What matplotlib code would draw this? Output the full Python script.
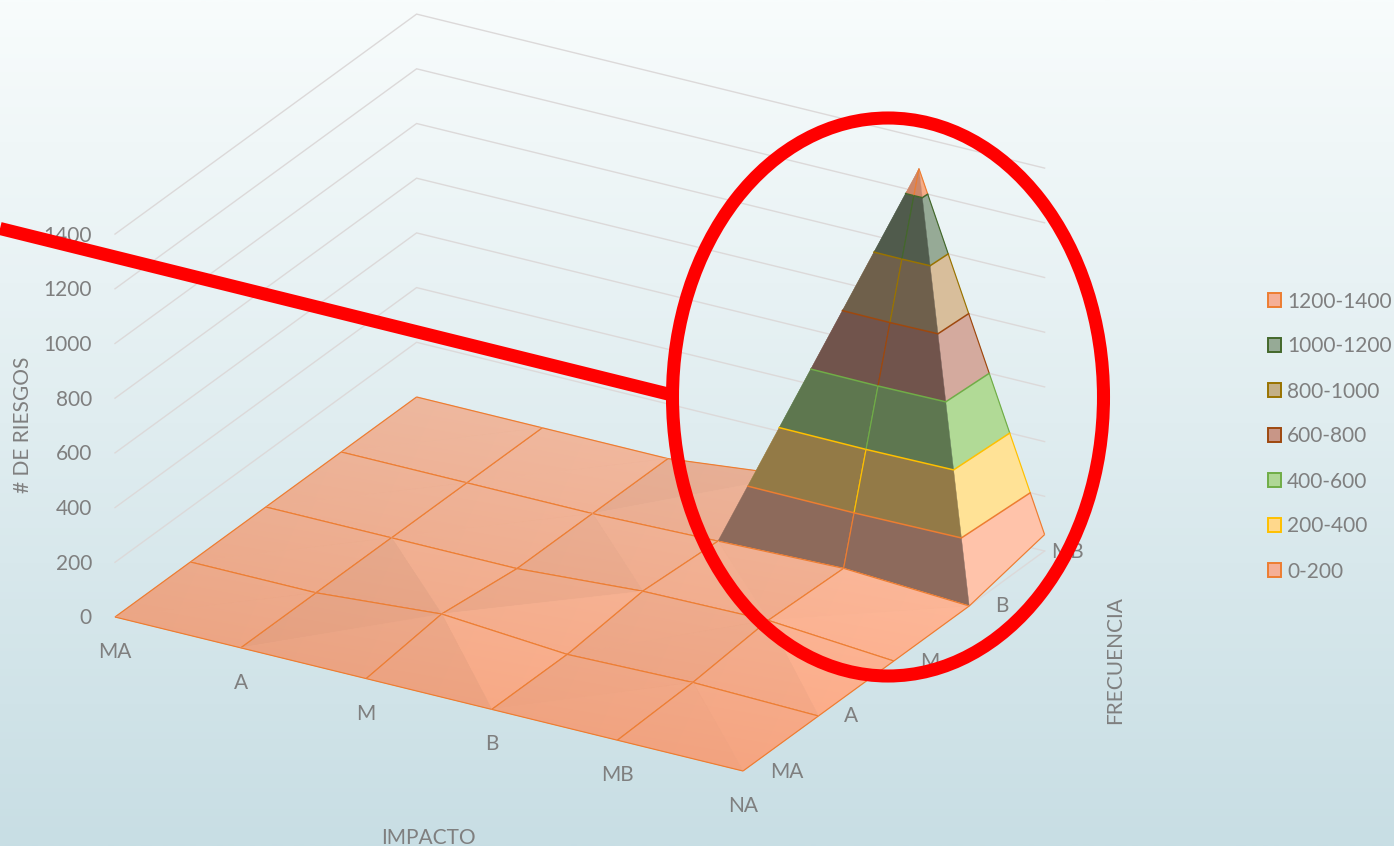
import numpy as np
import matplotlib
matplotlib.use("Agg")
import matplotlib.pyplot as plt
from matplotlib.patches import Polygon, Rectangle, Ellipse

# ---- chart data -------------------------------------------------------------
impact_labels = ["MA", "A", "M", "B", "MB", "NA"]
freq_labels = ["MA", "A", "M", "B", "MB"]

# number of risks, one row per frequency level, one column per impact level
risks_freq_ma = [0, 0, 0, 0, 0, 0]
risks_freq_a = [0, 0, 35, 0, 10, 0]
risks_freq_m = [0, 0, 0, 30, 36, 0]
risks_freq_b = [0, 0, 0, 12, 25, 0]
risks_freq_mb = [0, 0, 0, 50, 1285, 60]

band_edges = [0, 200, 400, 600, 800, 1000, 1200, 1400]
band_labels = ["0-200", "200-400", "400-600", "600-800", "800-1000", "1000-1200", "1200-1400"]
z_ticks = [0, 200, 400, 600, 800, 1000, 1200, 1400]

# ---- styling ----------------------------------------------------------------
band_lines = ["#ED7D31", "#FFC000", "#70AD47", "#9E480E", "#997300", "#43682B", "#ED7D31"]
band_swatches = ["#F5AF96", "#FFD88C", "#AFD796", "#C89687", "#C3AF87", "#96AA96", "#F5AF96"]
band_front = [(140, 105, 91), (146, 121, 70), (93, 118, 79), (112, 83, 75),
              (110, 95, 75), (80, 91, 76), (205, 135, 105)]
band_side = [(255, 195, 170), (255, 226, 150), (177, 218, 150), (212, 170, 158),
             (216, 190, 155), (150, 170, 150), (245, 172, 135)]
TEXT = "#7F7F7F"
GRID = "#DCD9D9"
W, H = 1394, 846

plt.rcParams["font.family"] = ["Lato", "DejaVu Sans"]
fig = plt.figure(figsize=(W / 100, H / 100), dpi=100)
ax = fig.add_axes([0, 0, 1, 1])
ax.set_xlim(0, W)
ax.set_ylim(H, 0)
ax.axis("off")

Z = np.array([risks_freq_ma, risks_freq_a, risks_freq_m, risks_freq_b, risks_freq_mb], dtype=float)
n_freq, n_imp = Z.shape


def project(i, j, z):
    """Oblique projection from (impact, frequency, risks) to canvas position."""
    return (115 + 125.6 * i + 75.4 * j, 617 + 30.8 * i - 55.0 * j - 0.2735 * z)


# backdrop
top = np.array([248, 252, 252]) / 255
bottom = np.array([200, 222, 228]) / 255
ramp = np.linspace(0, 1, 256)[:, None, None]
ax.imshow(top + (bottom - top) * ramp, extent=(0, W, H, 0), aspect="auto", zorder=0,
          interpolation="bilinear")
ax.set_xlim(0, W)
ax.set_ylim(H, 0)

# wall gridlines
for tick in z_ticks:
    p = [project(0, 0, tick), project(0, n_freq - 1, tick), project(n_imp - 1, n_freq - 1, tick)]
    ax.plot(*zip(*p), color=GRID, lw=1.0, zorder=1, solid_joinstyle="miter")
p = [project(n_imp - 1, 0, 0), project(n_imp - 1, n_freq - 1, 0)]
ax.plot(*zip(*p), color=GRID, lw=1.0, zorder=1)


def clip_poly(pts, zmin, zmax):
    """Clip a polygon of (i, j, z) points to the slab zmin <= z <= zmax."""
    def cut(points, level, keep_above):
        out = []
        for a, b in zip(points, points[1:] + points[:1]):
            ina = a[2] >= level if keep_above else a[2] <= level
            inb = b[2] >= level if keep_above else b[2] <= level
            if ina:
                out.append(a)
            if ina != inb:
                t = (level - a[2]) / (b[2] - a[2])
                out.append(tuple(a[k] + t * (b[k] - a[k]) for k in range(3)))
        return out
    pts = cut(list(pts), zmin, True)
    return cut(pts, zmax, False) if pts else []


def clip_segment(a, b, zmin, zmax):
    za, zb = a[2], b[2]
    if za == zb:
        return (a, b) if zmin <= za < zmax else None
    t0 = (zmin - za) / (zb - za)
    t1 = (zmax - za) / (zb - za)
    lo, hi = max(min(t0, t1), 0), min(max(t0, t1), 1)
    if hi <= lo:
        return None
    at = lambda t: tuple(a[k] + t * (b[k] - a[k]) for k in range(3))
    return at(lo), at(hi)


def normal_of(tri):
    a, b, c = [np.array([p[0], p[1], p[2] * 0.0021]) for p in tri]
    n = np.cross(b - a, c - a)
    if n[2] < 0:
        n = -n
    return n / np.linalg.norm(n)


def floor_color(x, y, shade):
    f = (y - 400) / 370
    base = np.array([239, 185, 160]) + (np.array([241, 161, 125]) - np.array([239, 185, 160])) * f
    base = base + np.array([6, 6, 7]) * (x - 520) / 500
    return np.clip(base * shade / 255, 0, 1)


# split every grid cell along the diagonal that touches its highest corner
triangles = []
for j in range(n_freq - 1):
    for i in range(n_imp - 1):
        c00 = (i, j, Z[j, i])
        c10 = (i + 1, j, Z[j, i + 1])
        c01 = (i, j + 1, Z[j + 1, i])
        c11 = (i + 1, j + 1, Z[j + 1, i + 1])
        if max(c00[2], c11[2]) >= max(c10[2], c01[2]):
            triangles.append((c00, c10, c11, [(c00, c10), (c10, c11)]))
            triangles.append((c00, c11, c01, [(c11, c01), (c01, c00)]))
        else:
            triangles.append((c00, c10, c01, [(c00, c10), (c01, c00)]))
            triangles.append((c10, c11, c01, [(c10, c11), (c11, c01)]))

# painter's order: far frequency first
triangles.sort(key=lambda t: -(t[0][1] + t[1][1] + t[2][1]))

z = 2.0
for a, b, c, edges in triangles:
    n = normal_of((a, b, c))
    steep = max(a[2], b[2], c[2]) > 300
    t = float(np.clip(0.85 + 0.21 * n[0] + 0.9 * n[1], 0, 1))
    for band in range(len(band_labels)):
        lo, hi = band_edges[band], band_edges[band + 1]
        poly = clip_poly((a, b, c), lo, hi)
        if len(poly) < 3:
            continue
        xy = [project(*p) for p in poly]
        if steep:
            col = (np.array(band_front[band]) + t * (np.array(band_side[band]) - np.array(band_front[band]))) / 255
            ax.add_patch(Polygon(xy, closed=True, fc=col, ec=col, lw=0.3, zorder=z))
        else:
            shade = 1 + 0.42 * n[0] + 0.15 * n[1]
            xs, ys = zip(*xy)
            x0, x1, y0, y1 = min(xs), max(xs), min(ys), max(ys)
            mean = floor_color(np.mean(xs), np.mean(ys), shade)
            patch = Polygon(xy, closed=True, fc=mean, ec=mean, lw=0.4, zorder=z)
            ax.add_patch(patch)
            gx, gy = np.meshgrid(np.linspace(x0, x1, 8), np.linspace(y0, y1, 8))
            img = floor_color(gx[..., None], gy[..., None], shade)
            im = ax.imshow(img, extent=(x0, x1, y1, y0), aspect="auto", zorder=z + 0.01,
                           interpolation="bilinear")
            im.set_clip_path(Polygon(xy, closed=True, transform=ax.transData))
    z += 0.1
    # grid edges of this facet, coloured by the band they run through
    for p, q in edges:
        for band in range(len(band_labels)):
            seg = clip_segment(p, q, band_edges[band], band_edges[band + 1])
            if seg:
                ax.plot(*zip(*[project(*s) for s in seg]), color=band_lines[band],
                        lw=0.85, zorder=z, solid_capstyle="butt")
    # contour lines between bands
    for band, level in enumerate(band_edges[1:-1]):
        pts = []
        for p, q in ((a, b), (b, c), (c, a)):
            if (p[2] - level) * (q[2] - level) < 0:
                s = (level - p[2]) / (q[2] - p[2])
                pts.append(project(p[0] + s * (q[0] - p[0]), p[1] + s * (q[1] - p[1]), level))
        if len(pts) == 2:
            ax.plot(*zip(*pts), color=band_lines[band], lw=1.1, zorder=z + 0.01,
                    solid_capstyle="round")
    z += 0.1

# tick labels
FS = 15.0
for tick in z_ticks:
    x, y = project(0, 0, tick)
    ax.text(x - 23, y + 1.5, str(tick), ha="right", va="center", color=TEXT, fontsize=FS, zorder=z)
for i, lab in enumerate(impact_labels):
    x, y = project(i, 0, 0)
    ax.text(x, y + 35, lab, ha="center", va="center", color=TEXT, fontsize=FS, zorder=z)
freq_dx = [44, 33, 36, 33, 23]
for j, lab in enumerate(freq_labels):
    x, y = project(n_imp - 1, j, 0)
    ax.text(x + freq_dx[j], y + 0.5, lab, ha="center", va="center", color=TEXT, fontsize=FS, zorder=z)

# axis titles
ax.text(23, 425, "# DE RIESGOS", rotation=90, ha="center", va="center", color=TEXT, fontsize=FS, zorder=z)
ax.text(428, 838, "IMPACTO", ha="center", va="center", color=TEXT, fontsize=FS, zorder=z)
ax.text(1115, 660, "FRECUENCIA", rotation=90, ha="center", va="center", color=TEXT, fontsize=FS, zorder=z)

# legend, highest band on top
for row, band in enumerate(reversed(range(len(band_labels)))):
    y = 300.5 + 45 * row
    ax.add_patch(Rectangle((1268, y - 7), 13, 14, fc=band_swatches[band], ec=band_lines[band],
                           lw=1.4, zorder=z))
    ax.text(1287, y + 1, band_labels[band], ha="left", va="center", color=TEXT, fontsize=FS, zorder=z)

# red annotation pointing at the peak
ax.plot([0, 668], [228.5, 394], color="#FF0000", lw=9.4, solid_capstyle="butt", zorder=z + 1)
ax.add_patch(Ellipse((888, 397), 431, 558, fc="none", ec="#FF0000", lw=9.4, zorder=z + 1))

fig.savefig("out.png", dpi=100)
